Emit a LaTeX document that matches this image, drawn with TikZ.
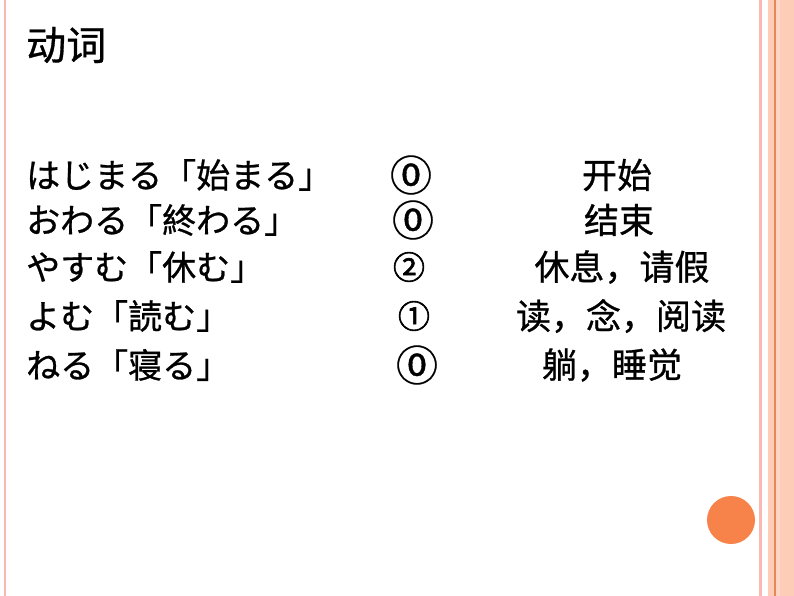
\documentclass[tikz,border=0pt]{standalone}
\usepackage{fontspec}
\newfontfamily\cjk[FakeBold=0.8]{Noto Sans CJK SC}
\newfontfamily\cjkb[FakeBold=2]{Noto Sans CJK SC}
\definecolor{pk}{HTML}{F9B8B0}
\definecolor{sa}{HTML}{FDCDB8}
\definecolor{og}{HTML}{E8855A}
\definecolor{ball}{HTML}{F7834A}
\begin{document}
\begin{tikzpicture}[x=1pt,y=-1pt,
  t/.style={anchor=west,inner sep=0,font=\cjk\fontsize{34}{34}\selectfont},
  c/.style={anchor=center,inner sep=0,font=\cjk\fontsize{35}{35}\selectfont},
  n/.style={anchor=center,inner sep=0,font=\cjk\fontsize{42}{42}\selectfont},
  m/.style={anchor=center,inner sep=0,font=\cjkb\fontsize{32}{32}\selectfont}]
\useasboundingbox (0,0) rectangle (794,596);
\fill[white] (0,0) rectangle (794,596);
\fill[pk] (4,0) rectangle (6,596);
\fill[pk] (759,0) rectangle (762,596);
\fill[sa] (768,0) rectangle (794,596);
\fill[og] (774,0) rectangle (775.5,596);
\fill[sa!80!white] (776,0) rectangle (780,596);
\fill[ball] (731,520) circle (24);
\node[t,font=\cjk\fontsize{40}{40}\selectfont] (title) at (26,45) {动词};
\node[t] (a1) at (26,175) {はじまる「始まる」};
\node[t] (a2) at (26,220) {おわる「終わる」};
\node[t] (a3) at (26,267) {やすむ「休む」};
\node[t] (a4) at (26,316) {よむ「読む」};
\node[t] (a5) at (26,365) {ねる「寝る」};
\node[n] (b1) at (411,175) {⓪};
\node[n] (b2) at (413,220) {⓪};
\node[m] (b3) at (409,267) {②};
\node[m] (b4) at (414,316) {①};
\node[n] (b5) at (417,365) {⓪};
\node[c] (c1) at (617,175) {开始};
\node[c] (c2) at (619,220) {结束};
\node[c] (c3) at (622,267) {休息，请假};
\node[c] (c4) at (621,316) {读，念，阅读};
\node[c] (c5) at (612,365) {躺，睡觉};
\end{tikzpicture}
\end{document}
